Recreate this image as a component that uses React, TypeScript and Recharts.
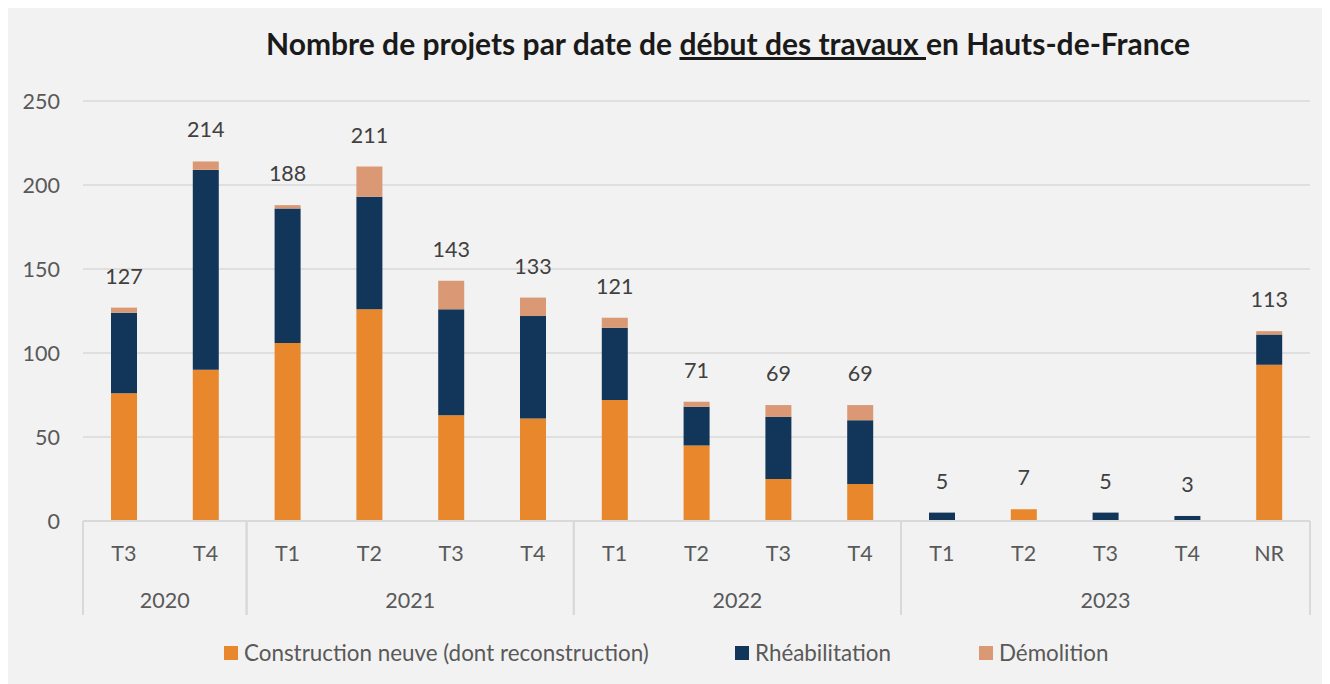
import { BarChart, Bar, XAxis, YAxis, CartesianGrid, LabelList } from "recharts";

const quarters = ["T3", "T4", "T1", "T2", "T3", "T4", "T1", "T2", "T3", "T4", "T1", "T2", "T3", "T4", "NR"];
const years = ["2020", "2020", "2021", "2021", "2021", "2021", "2022", "2022", "2022", "2022", "2023", "2023", "2023", "2023", "2023"];

const construction = [76, 90, 106, 126, 63, 61, 72, 45, 25, 22, 0, 7, 0, 0, 93];
const rehabilitation = [48, 119, 80, 67, 63, 61, 43, 23, 37, 38, 5, 0, 5, 3, 18];
const demolition = [3, 5, 2, 18, 17, 11, 6, 3, 7, 9, 0, 0, 0, 0, 2];

const yTicks = [0, 50, 100, 150, 200, 250];

const data = quarters.map((q, i) => ({
  key: i,
  q,
  year: years[i],
  construction: construction[i],
  rehabilitation: rehabilitation[i],
  demolition: demolition[i],
  total: construction[i] + rehabilitation[i] + demolition[i],
}));

const FONT = "Lato, 'Noto Sans', sans-serif";
const ORANGE = "#e8872c";
const NAVY = "#12365a";
const SALMON = "#da9874";
const GRID = "#d9d9d9";
const FS = 21.5;

const W = 1324;
const H = 676;
const PLOT_LEFT = 77;
const PLOT_RIGHT = 20;
const BAND = (W - PLOT_LEFT - PLOT_RIGHT) / quarters.length;

function QuarterTick(props: any) {
  const { x, y, payload } = props;
  const i = payload.index;
  const yr = years[i];
  const first = i === 0 || years[i - 1] !== yr;
  const last = i === years.length - 1 || years[i + 1] !== yr;
  const count = years.filter((v) => v === yr).length;
  const left = x - BAND / 2;
  return (
    <g>
      <text x={x} y={y + 40} textAnchor="middle" fill="#595959" fontSize={FS} fontFamily={FONT}>
        {quarters[i]}
      </text>
      {first && (
        <>
          <line x1={left} x2={left} y1={y} y2={y + 94} stroke={GRID} strokeWidth={2} />
          <text x={left + (count * BAND) / 2} y={y + 87} textAnchor="middle" fill="#595959" fontSize={FS} fontFamily={FONT}>
            {yr}
          </text>
        </>
      )}
      {last && <line x1={x + BAND / 2} x2={x + BAND / 2} y1={y} y2={y + 94} stroke={GRID} strokeWidth={2} />}
    </g>
  );
}

function TotalLabel(props: any) {
  const { x, y, width, value } = props;
  return (
    <text x={x + width / 2} y={y - 24} textAnchor="middle" fill="#404040" fontSize={FS} fontFamily={FONT}>
      {value}
    </text>
  );
}

const legendItems = [
  { name: "Construction neuve (dont reconstruction)", color: ORANGE, left: 218 },
  { name: "Rhéabilitation", color: NAVY, left: 729 },
  { name: "Démolition", color: SALMON, left: 973 },
];

export default function App() {
  return (
    <div style={{ position: "relative", width: W, height: H, marginLeft: -2, background: "#f2f2f2", fontFamily: FONT }}>
      <div
        style={{
          position: "absolute",
          left: 0,
          width: 1444,
          top: 17,
          textAlign: "center",
          fontSize: 30,
          fontWeight: 700,
          color: "#1a1a1a",
        }}
      >
        Nombre de projets par date de <span style={{ textDecoration: "underline" }}>début des travaux </span>en Hauts-de-France
      </div>
      <BarChart width={W} height={H} data={data} margin={{ top: 93, right: PLOT_RIGHT, bottom: 0, left: 0 }} barSize={26}>
        <CartesianGrid vertical={false} stroke={GRID} strokeWidth={1.5} />
        <YAxis
          width={PLOT_LEFT}
          domain={[0, 250]}
          ticks={yTicks}
          axisLine={false}
          tickLine={false}
          tickSize={0}
          tickMargin={23}
          tick={{ fill: "#595959", fontSize: FS, fontFamily: FONT }}
        />
        <XAxis
          dataKey="key"
          height={163}
          interval={0}
          axisLine={{ stroke: GRID, strokeWidth: 2 }}
          tickLine={false}
          tickSize={0}
          tickMargin={0}
          tick={<QuarterTick />}
        />
        <XAxis xAxisId="tot" dataKey="key" hide />
        <Bar dataKey="construction" stackId="a" fill={ORANGE} isAnimationActive={false} />
        <Bar dataKey="rehabilitation" stackId="a" fill={NAVY} isAnimationActive={false} />
        <Bar dataKey="demolition" stackId="a" fill={SALMON} isAnimationActive={false} />
        <Bar dataKey="total" xAxisId="tot" fill="none" isAnimationActive={false}>
          <LabelList dataKey="total" content={<TotalLabel />} />
        </Bar>
      </BarChart>
      {legendItems.map((it) => (
        <div
          key={it.name}
          style={{ position: "absolute", left: it.left, top: 631, display: "flex", alignItems: "center", fontSize: 22.4, color: "#595959" }}
        >
          <span style={{ width: 14, height: 14, background: it.color, display: "inline-block", marginRight: 6 }} />
          {it.name}
        </div>
      ))}
    </div>
  );
}
